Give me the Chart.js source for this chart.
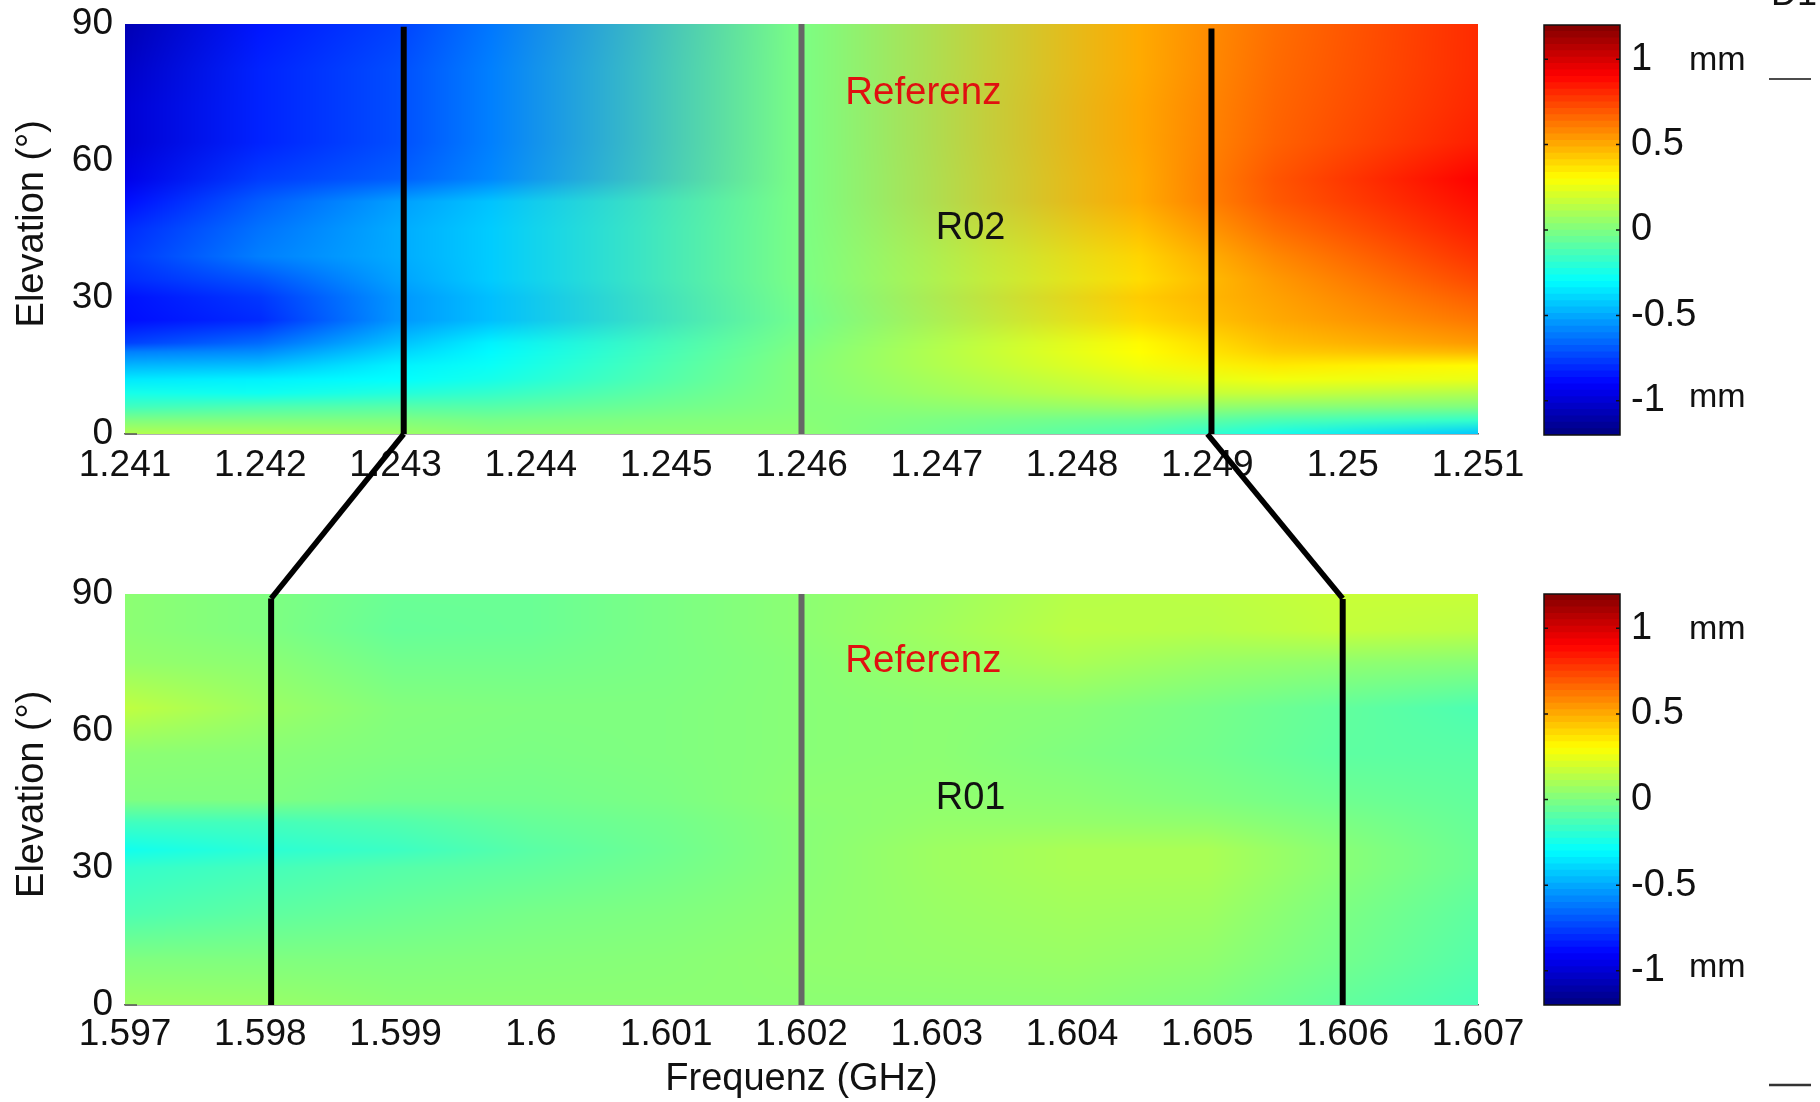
<!DOCTYPE html>
<html>
<head>
<meta charset="utf-8">
<title>Referenz R02 / R01</title>
<script src="https://cdn.jsdelivr.net/npm/chart.js@4/dist/chart.umd.min.js"></script>
<style>
html,body{margin:0;padding:0;background:#fff;width:1820px;height:1102px;overflow:hidden}
canvas{position:absolute;left:0;top:0}
</style>
</head>
<body>
<canvas id="c1" width="1820" height="1102"></canvas>
<canvas id="c2" width="1820" height="1102"></canvas>
<canvas id="c3" width="1820" height="1102"></canvas>
<canvas id="c4" width="1820" height="1102"></canvas>
<script>
// ---------- tick labels ----------
const topFreqTicks = [1.241,1.242,1.243,1.244,1.245,1.246,1.247,1.248,1.249,1.25,1.251];
const bottomFreqTicks = [1.597,1.598,1.599,1.6,1.601,1.602,1.603,1.604,1.605,1.606,1.607];
const elevationTicks = [0,30,60,90];
const colorTicks = [-1,-0.5,0,0.5,1];

// ---------- R02 (top panel): elevation rows, one value list (mm) per frequency column ----------
const r02Elevations = [0,3,6,9,12,15,18,20,25,30,34,39,45,51,56,64,72,80,90];
const r02Frequencies = [1.241,1.242,1.243,1.2437,1.246,1.2485,1.2495,1.251];
const r02_1241  = [.12,0,-.15,-.25,-.35,-.47,-.6,-.75,-.87,-.86,-.8,-.77,-.8,-.87,-.95,-1,-1,-1.03,-1.08];
const r02_1242  = [.1,0,-.12,-.27,-.33,-.45,-.57,-.65,-.8,-.77,-.7,-.6,-.63,-.68,-.76,-.82,-.82,-.82,-.85];
const r02_1243  = [.07,0,-.1,-.22,-.3,-.33,-.4,-.45,-.55,-.55,-.52,-.5,-.5,-.53,-.68,-.72,-.72,-.72,-.75];
const r02_12437 = [.03,-.02,-.1,-.18,-.25,-.28,-.31,-.33,-.45,-.45,-.42,-.42,-.42,-.44,-.58,-.6,-.6,-.6,-.62];
const r02_1246  = [.03,.02,.01,.01,.01,.01,0,-.01,-.03,-.02,-.01,-.01,-.01,-.01,-.01,-.01,-.01,-.01,-.01];
const r02_12485 = [-.12,-.05,.07,.17,.22,.27,.3,.31,.39,.42,.38,.4,.45,.5,.5,.51,.51,.5,.5];
const r02_12495 = [-.25,-.12,.03,.17,.27,.35,.42,.45,.5,.52,.54,.58,.64,.69,.7,.67,.66,.65,.64];
const r02_1251  = [-.43,-.18,0,.12,.25,.31,.47,.54,.62,.68,.73,.78,.83,.87,.9,.83,.81,.8,.8];

// ---------- R01 (bottom panel) ----------
const r01Elevations = [0,10,20,30,34,40,45,55,65,75,82,90];
const r01Frequencies = [1.597,1.598,1.599,1.6,1.601,1.602,1.603,1.604,1.605,1.606,1.607];
const r01_1597 = [.07,0,-.12,-.18,-.26,-.15,0,.03,.15,.05,.03,.03];
const r01_1598 = [.06,0,-.08,-.14,-.2,-.14,0,.02,.07,.03,0,0];
const r01_1599 = [.03,0,-.05,-.1,-.16,-.11,-.03,0,.01,-.03,-.06,-.05];
const r01_1600 = [.03,.01,-.02,-.07,-.09,-.06,-.03,-.01,0,-.03,-.05,-.05];
const r01_1601 = [.03,.02,0,-.03,-.04,-.03,-.01,0,0,-.01,-.01,-.01];
const r01_1602 = [.03,.04,.03,.02,.02,.02,.03,.02,.02,.02,.03,.03];
const r01_1603 = [.03,.05,.06,.07,.07,.05,.04,.03,.03,.06,.08,.07];
const r01_1604 = [.03,.06,.08,.1,.1,.05,.03,0,.02,.1,.14,.13];
const r01_1605 = [0,.04,.07,.1,.1,.04,0,-.03,-.02,.06,.13,.14];
const r01_1606 = [-.07,-.03,-.01,.02,.02,-.01,-.04,-.08,-.07,.04,.16,.17];
const r01_1607 = [-.13,-.1,-.08,-.05,-.05,-.06,-.07,-.09,-.12,.02,.14,.17];

// ---------- marker lines: [frequency, elevation top] ----------
const r02BlackLines = [1.24306,1.24903];
const r02BlackTops = [89.4,89];
const r01BlackLines = [1.59808,1.606];
const r01BlackTops = [89,88.9];
const r02Reference = 1.246;
const r01Reference = 1.602;
const connectorTop = [1.24306,1.24900];
const connectorBottom = [1.59808,1.606];

// ---------- colour scale ----------
const colorMin = -1.2, colorMax = 1.2, colorLevels = 64;
const clamp01 = v => Math.max(0, Math.min(1, v));
function jet(t){
  return [clamp01(1.5-Math.abs(4*t-3))*255, clamp01(1.5-Math.abs(4*t-2))*255, clamp01(1.5-Math.abs(4*t-1))*255];
}
const valueColor = v => jet(clamp01((v-colorMin)/(colorMax-colorMin)));

const FONT = '"Liberation Sans", Arial, sans-serif';
const INK = '#111';
const common = {responsive:false, animation:false, events:[],
  plugins:{legend:{display:false},tooltip:{enabled:false},title:{display:false}}};
const noAutoPad = s => { s.paddingLeft = s.paddingRight = s.paddingTop = s.paddingBottom = 0; };

function locate(list, v){
  let i = 0;
  while(i < list.length-2 && v > list[i+1]) i++;
  return [i, clamp01((v-list[i])/(list[i+1]-list[i]))];
}

// paints the measured grid: each pixel is looked up through the chart's own scales
const heatPlugin = {
  id:'heat',
  beforeDatasetsDraw(chart){
    const g = chart.config.options.plugins.heat;
    const a = chart.chartArea, ctx = chart.ctx;
    const L = Math.round(a.left), T = Math.round(a.top);
    const W = Math.round(a.right-a.left), H = Math.round(a.bottom-a.top);
    const img = ctx.createImageData(W,H);
    const nodes = g.columns.map(col => col.map(valueColor));
    const colIdx = [];
    for(let i=0;i<W;i++) colIdx.push(locate(g.frequencies, chart.scales.x.getValueForPixel(L+i+.5)));
    for(let j=0;j<H;j++){
      const [r,fr] = locate(g.elevations, chart.scales.y.getValueForPixel(T+j+.5));
      for(let i=0;i<W;i++){
        const [c,fc] = colIdx[i];
        const o = (j*W+i)*4;
        for(let k=0;k<3;k++){
          const a0 = nodes[c][r][k]*(1-fr)+nodes[c][r+1][k]*fr;
          const a1 = nodes[c+1][r][k]*(1-fr)+nodes[c+1][r+1][k]*fr;
          img.data[o+k] = a0*(1-fc)+a1*fc;
        }
        img.data[o+3] = 255;
      }
    }
    ctx.putImageData(img,L,T);
  }
};

// in-plot text and the short tick at elevation 0
const notePlugin = {
  id:'notes',
  afterDraw(chart){
    const n = chart.config.options.plugins.notes;
    const ctx = chart.ctx, sx = chart.scales.x, sy = chart.scales.y;
    ctx.save();
    ctx.strokeStyle = '#555'; ctx.lineWidth = 1.5;
    ctx.beginPath();
    ctx.moveTo(chart.chartArea.left, sy.getPixelForValue(0));
    ctx.lineTo(chart.chartArea.left+12, sy.getPixelForValue(0));
    ctx.stroke();
    ctx.textAlign='center'; ctx.textBaseline='middle';
    n.items.forEach(it=>{
      ctx.font = it.size+'px '+FONT; ctx.fillStyle = it.color;
      ctx.fillText(it.text, sx.getPixelForValue(it.x), sy.getPixelForValue(it.y));
    });
    ctx.restore();
  }
};

function makePanel(id, o){
  const lineSets = o.blackLines.map((f,i)=>({
    type:'scatter', showLine:true, pointRadius:0, borderColor:'#000', borderWidth:6, borderCapStyle:'butt',
    data:[{x:f,y:0},{x:f,y:o.blackTops[i]}], order:0
  }));
  lineSets.push({
    type:'scatter', showLine:true, pointRadius:0, borderColor:'#666', borderWidth:6, borderCapStyle:'butt',
    data:[{x:o.reference,y:0},{x:o.reference,y:90}], order:1
  });
  const nodes = [];
  o.columns.forEach((col,c)=>col.forEach((v,r)=>nodes.push({x:o.frequencies[c],y:o.elevations[r],v})));
  lineSets.push({type:'scatter', label:o.name, pointRadius:0, showLine:false, data:nodes, order:2});
  return new Chart(document.getElementById(id),{
    type:'scatter',
    data:{datasets:lineSets},
    plugins:[heatPlugin,notePlugin],
    options:{...common,
      layout:{autoPadding:false,padding:{left:5,right:342,top:o.top,bottom:1102-o.bottom-o.xHeight-o.xPad}},
      plugins:{...common.plugins,
        heat:{columns:o.columns,frequencies:o.frequencies,elevations:o.elevations},
        notes:{items:o.items}},
      scales:{
        x:{type:'linear',min:o.ticks[0],max:o.ticks[o.ticks.length-1],
          afterBuildTicks:s=>{s.ticks=o.ticks.map(v=>({value:v}));},
          afterFit:s=>{s.height=o.xHeight;noAutoPad(s);},
          grid:{display:true,drawOnChartArea:false,drawTicks:false},
          border:{display:true,color:'#666',width:1.5},
          ticks:{autoSkip:false,maxRotation:0,minRotation:0,padding:o.xTickPad,color:INK,
            font:{family:FONT,size:37},callback:v=>String(+Number(v).toFixed(3))},
          title:o.xTitle?{display:true,text:o.xTitle,color:INK,font:{family:FONT,size:38},padding:0}:{display:false}
        },
        y:{type:'linear',min:0,max:90,
          afterBuildTicks:s=>{s.ticks=elevationTicks.map(v=>({value:v}));},
          afterFit:s=>{s.width=120;noAutoPad(s);},
          grid:{display:false,drawTicks:false},border:{display:false},
          ticks:{padding:12,color:INK,font:{family:FONT,size:37}},
          title:{display:true,text:' Elevation (°)',color:INK,font:{family:FONT,size:38},padding:{top:5,bottom:0}}
        }
      }
    }
  });
}

function makeColorbar(id, top, bottom){
  const sets = [];
  for(let i=0;i<colorLevels;i++){
    const c = jet((i+.5)/colorLevels).map(Math.round);
    sets.push({data:[[colorMin, colorMin+(colorMax-colorMin)*(i+1)/colorLevels]],
      backgroundColor:`rgb(${c[0]},${c[1]},${c[2]})`,grouped:false,barPercentage:1,categoryPercentage:1,borderWidth:0});
  }
  const framePlugin = {id:'frame',afterDraw(chart){
    const a = chart.chartArea, ctx = chart.ctx, sy = chart.scales.y;
    ctx.save();
    ctx.strokeStyle='#111';ctx.lineWidth=1.5;
    ctx.strokeRect(a.left,a.top,a.right-a.left,a.bottom-a.top);
    ctx.beginPath();
    colorTicks.forEach(t=>{const p=sy.getPixelForValue(t);
      ctx.moveTo(a.left,p);ctx.lineTo(a.left+4,p);ctx.moveTo(a.right,p);ctx.lineTo(a.right-4,p);});
    ctx.stroke();
    ctx.font='34px '+FONT;ctx.fillStyle=INK;ctx.textAlign='left';ctx.textBaseline='middle';
    ctx.fillText('mm',a.right+69,sy.getPixelForValue(1)+1);
    ctx.fillText('mm',a.right+69,sy.getPixelForValue(-1)-3);
    ctx.restore();
  }};
  return new Chart(document.getElementById(id),{
    type:'bar',
    data:{labels:['mm'],datasets:sets},
    plugins:[framePlugin],
    options:{...common,
      layout:{autoPadding:false,padding:{left:1544,right:50,top:top,bottom:1102-bottom}},
      scales:{
        x:{display:false,type:'category'},
        y:{type:'linear',position:'right',min:colorMin,max:colorMax,
          afterBuildTicks:s=>{s.ticks=colorTicks.map(v=>({value:v}));},
          afterFit:s=>{s.width=150;noAutoPad(s);},
          grid:{display:false,drawTicks:false},border:{display:false},
          ticks:{padding:11,color:INK,font:{family:FONT,size:38},callback:v=>String(v)}
        }
      }
    }
  });
}

const topChart = makePanel('c1',{
  name:'R02',top:24,bottom:434,xHeight:70,xPad:0,xTickPad:10,ticks:topFreqTicks,
  columns:[r02_1241,r02_1242,r02_1243,r02_12437,r02_1246,r02_12485,r02_12495,r02_1251],
  frequencies:r02Frequencies,elevations:r02Elevations,
  blackLines:r02BlackLines,blackTops:r02BlackTops,reference:r02Reference,
  items:[{text:'Referenz',x:1.2469,y:74.8,color:'#e01010',size:38.5},{text:'R02',x:1.24725,y:45,color:'#111',size:38}]
});
makeColorbar('c3',25,435);

// connector lines run between the two panels, so they are placed through both charts' scales
const connectorPlugin = {
  id:'connector',
  afterDraw(chart){
    const ctx = chart.ctx, t = topChart.scales, b = chart.scales;
    ctx.save();
    ctx.strokeStyle='#000';ctx.lineWidth=5.5;ctx.lineJoin='miter';
    connectorTop.forEach((f,i)=>{
      ctx.beginPath();
      ctx.moveTo(t.x.getPixelForValue(f),t.y.getPixelForValue(0));
      ctx.lineTo(b.x.getPixelForValue(connectorBottom[i]),b.y.getPixelForValue(89));
      ctx.stroke();
    });
    ctx.lineWidth=1.5;ctx.strokeStyle='#111';
    ctx.beginPath();ctx.moveTo(1769,79);ctx.lineTo(1811,79);ctx.stroke();
    ctx.lineWidth=2.5;ctx.strokeStyle='#333';
    ctx.beginPath();ctx.moveTo(1769,1085);ctx.lineTo(1811,1085);ctx.stroke();
    ctx.font='36px '+FONT;ctx.fillStyle=INK;ctx.textAlign='left';ctx.textBaseline='alphabetic';
    ctx.fillText('D1',1771,5);
    ctx.restore();
  }
};
makeColorbar('c4',594,1005);
const bottomChart = makePanel('c2',{
  name:'R01',top:594,bottom:1004,xHeight:97,xPad:1,xTickPad:8,ticks:bottomFreqTicks,xTitle:'Frequenz (GHz)',
  columns:[r01_1597,r01_1598,r01_1599,r01_1600,r01_1601,r01_1602,r01_1603,r01_1604,r01_1605,r01_1606,r01_1607],
  frequencies:r01Frequencies,elevations:r01Elevations,
  blackLines:r01BlackLines,blackTops:r01BlackTops,reference:r01Reference,
  items:[{text:'Referenz',x:1.6029,y:75.2,color:'#e01010',size:38.5},{text:'R01',x:1.60325,y:45.3,color:'#111',size:38}]
});
connectorPlugin.afterDraw(bottomChart);
</script>
</body>
</html>
